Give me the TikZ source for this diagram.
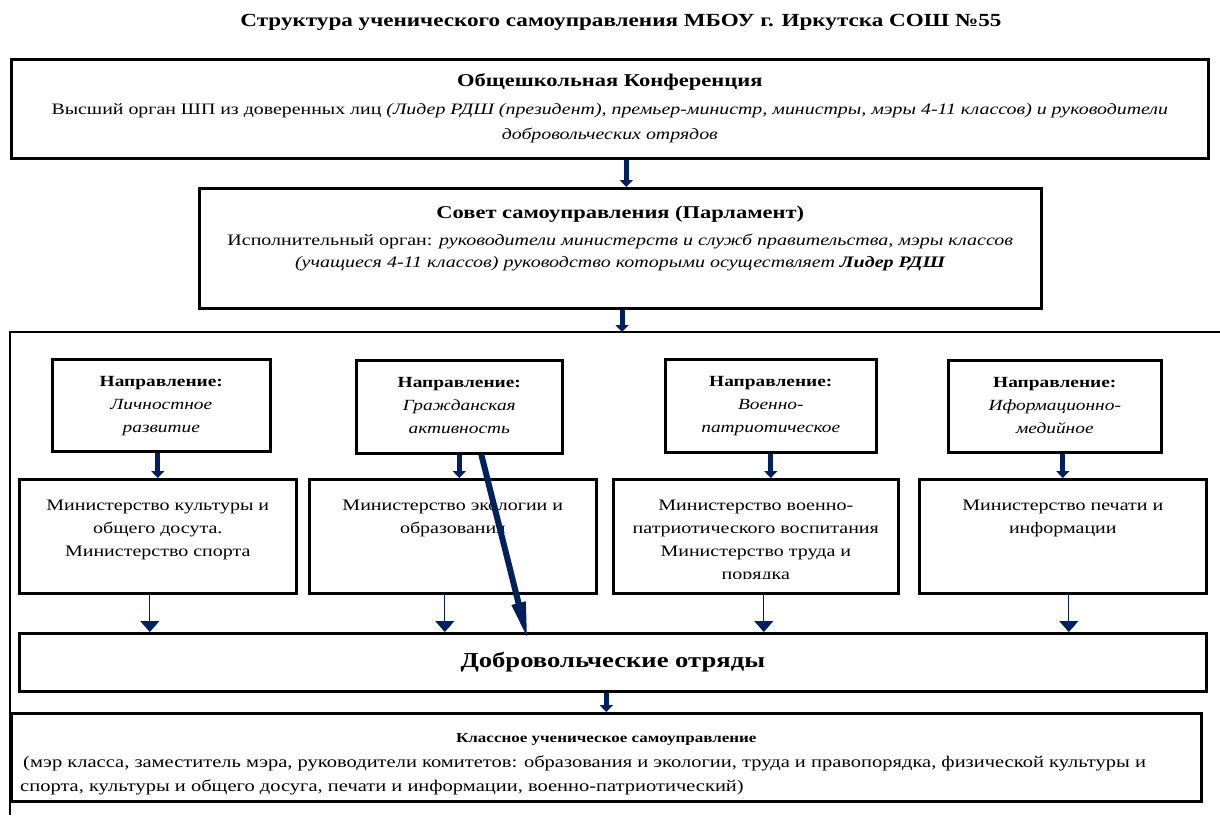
\documentclass[tikz,border=0pt]{standalone}
\usepackage{fontspec}
\setmainfont{Liberation Serif}[FakeStretch=1.25]
\usetikzlibrary{arrows.meta,positioning}
\definecolor{navy}{RGB}{0,32,96}
\tikzset{
  frame/.style={draw,line width=2.6pt,anchor=north west,inner sep=0pt},
  txt/.style={align=center,inner sep=0pt},
  thk/.style={draw=navy,line width=5pt,-{Triangle[width=13pt,length=7pt]}},
  thn/.style={draw=navy,line width=1.2pt,-{Triangle[width=19pt,length=11pt]}},
  diag/.style={draw=navy,line width=6pt,-{Triangle[width=13pt,length=38pt]}}
}
\newcommand{\fs}[2]{\fontsize{#1}{#2}\selectfont}

\begin{document}
\begin{tikzpicture}[x=1pt,y=-1pt]
\useasboundingbox (0,0) rectangle (1220,815);
% title
\node[txt,font=\fs{18.5}{22}\bfseries] (title) at (621,22) {Структура ученического самоуправления МБОУ г. Иркутска СОШ №55};
% top level
\node[frame,minimum width=1197,minimum height=99] (conf) at (10,58) {};
\node[txt,font=\fs{18}{22}\bfseries,below=15pt of conf.north] (conft) {Общешкольная Конференция};
\node[txt,font=\fs{15.9}{25},below=13pt of conft] (confd) {Высший орган ШП из доверенных лиц \textit{(Лидер РДШ (президент), премьер-министр, министры, мэры 4-11 классов) и руководители}\\\textit{добровольческих отрядов}};
\node[frame,minimum width=842,minimum height=120] (sovet) at (198,187) {};
\node[txt,font=\fs{18}{22}\bfseries,below=19pt of sovet.north] (sovett) {Совет самоуправления (Парламент)};
\node[txt,font=\fs{16}{22},below=11pt of sovett] (sovetd) {Исполнительный орган: \textit{руководители министерств и служб правительства, мэры классов}\\\textit{(учащиеся 4-11 классов) руководство которыми осуществляет \textbf{Лидер РДШ}}};
% outer frame
\coordinate (ftop) at (622,332);
\draw[line width=2.4pt] (1220,332) -| (10,815);
% directions
\node[frame,minimum width=218,minimum height=92] (d1) at (51,358) {};
\node[frame,minimum width=206,minimum height=93] (d2) at (355,359) {};
\node[frame,minimum width=211,minimum height=93] (d3) at (664,358) {};
\node[frame,minimum width=213,minimum height=92] (d4) at (947,359) {};
\node[txt,font=\fs{15.5}{23},below=18pt of d1.north] (d1t) {\textbf{Направление:}\\\textit{Личностное}\\\textit{развитие}};
\node[txt,font=\fs{15.5}{23},below=18pt of d2.north] (d2t) {\textbf{Направление:}\\\textit{Гражданская}\\\textit{активность}};
\node[txt,font=\fs{15.5}{23},below=18pt of d3.north] (d3t) {\textbf{Направление:}\\\textit{Военно-}\\\textit{патриотическое}};
\node[txt,font=\fs{15.5}{23},below=18pt of d4.north] (d4t) {\textbf{Направление:}\\\textit{Иформационно-}\\\textit{медийное}};
% ministries
\node[frame,minimum width=277,minimum height=114] (m1) at (18,478) {};
\node[frame,minimum width=287,minimum height=114] (m2) at (308,478) {};
\node[frame,minimum width=285,minimum height=114] (m3) at (612,478) {};
\node[frame,minimum width=287,minimum height=114] (m4) at (918,478) {};
\node[txt,font=\fs{16}{23},below=22pt of m1.north] (m1t) {Министерство культуры и\\общего досута.\\Министерство спорта};
\node[txt,font=\fs{16}{23},below=22pt of m2.north] (m2t) {Министерство экологии и\\образования};
\begin{scope}
\clip (612,478) rectangle (897,578);
\node[txt,font=\fs{16}{23},below=22pt of m3.north] (m3t) {Министерство военно-\\патриотического воспитания\\Министерство труда и\\порядка};
\end{scope}
\node[txt,font=\fs{16}{23},below=22pt of m4.north] (m4t) {Министерство печати и\\информации};
% volunteers and classes
\node[frame,minimum width=1187,minimum height=58] (vol) at (18,632) {};
\node[txt,font=\fs{21.3}{26}\bfseries] (volt) at (vol.center) {Добровольческие отряды};
\node[frame,minimum width=1190,minimum height=88] (cls) at (10,712) {};
\node[txt,font=\fs{13.6}{18}\bfseries,below=21pt of cls.north] (clst) {Классное ученическое самоуправление};
\node[font=\fs{16.4}{24},align=left,inner sep=0pt,anchor=north west] (clsd) at (20,756) {\hspace*{3pt}(мэр класса, заместитель мэра, руководители комитетов: образования и экологии, труда и правопорядка, физической культуры и\\спорта, культуры и общего досуга, печати и информации, военно-патриотический)};
% arrows
\draw[thk] ([xshift=6pt]sovet.north |- conf.south) -- ([xshift=6pt]sovet.north);
\draw[thk] (sovet.south -| ftop) -- (ftop);
\draw[thk] (d1.south -| m1.north) -- (m1.north);
\draw[thk] (d2.south) -- (d2.south |- m2.north);
\draw[thk] (d3.south) -- (d3.south |- m3.north);
\draw[thk] (d4.south -| m4.north) -- (m4.north);
\draw[thn] ([xshift=-8pt]m1.south) -- ([xshift=-8pt]m1.south |- vol.north);
\draw[thn] ([xshift=-8pt]m2.south) -- ([xshift=-8pt]m2.south |- vol.north);
\draw[thn] ([xshift=8pt]m3.south) -- ([xshift=8pt]m3.south |- vol.north);
\draw[thn] ([xshift=6pt]m4.south) -- ([xshift=6pt]m4.south |- vol.north);
\draw[diag] ([xshift=22pt]d2.south) -- ([xshift=-85pt,yshift=-8pt]vol.north);
\draw[thk] (vol.south -| cls.north) -- (cls.north);
\end{tikzpicture}
\end{document}
